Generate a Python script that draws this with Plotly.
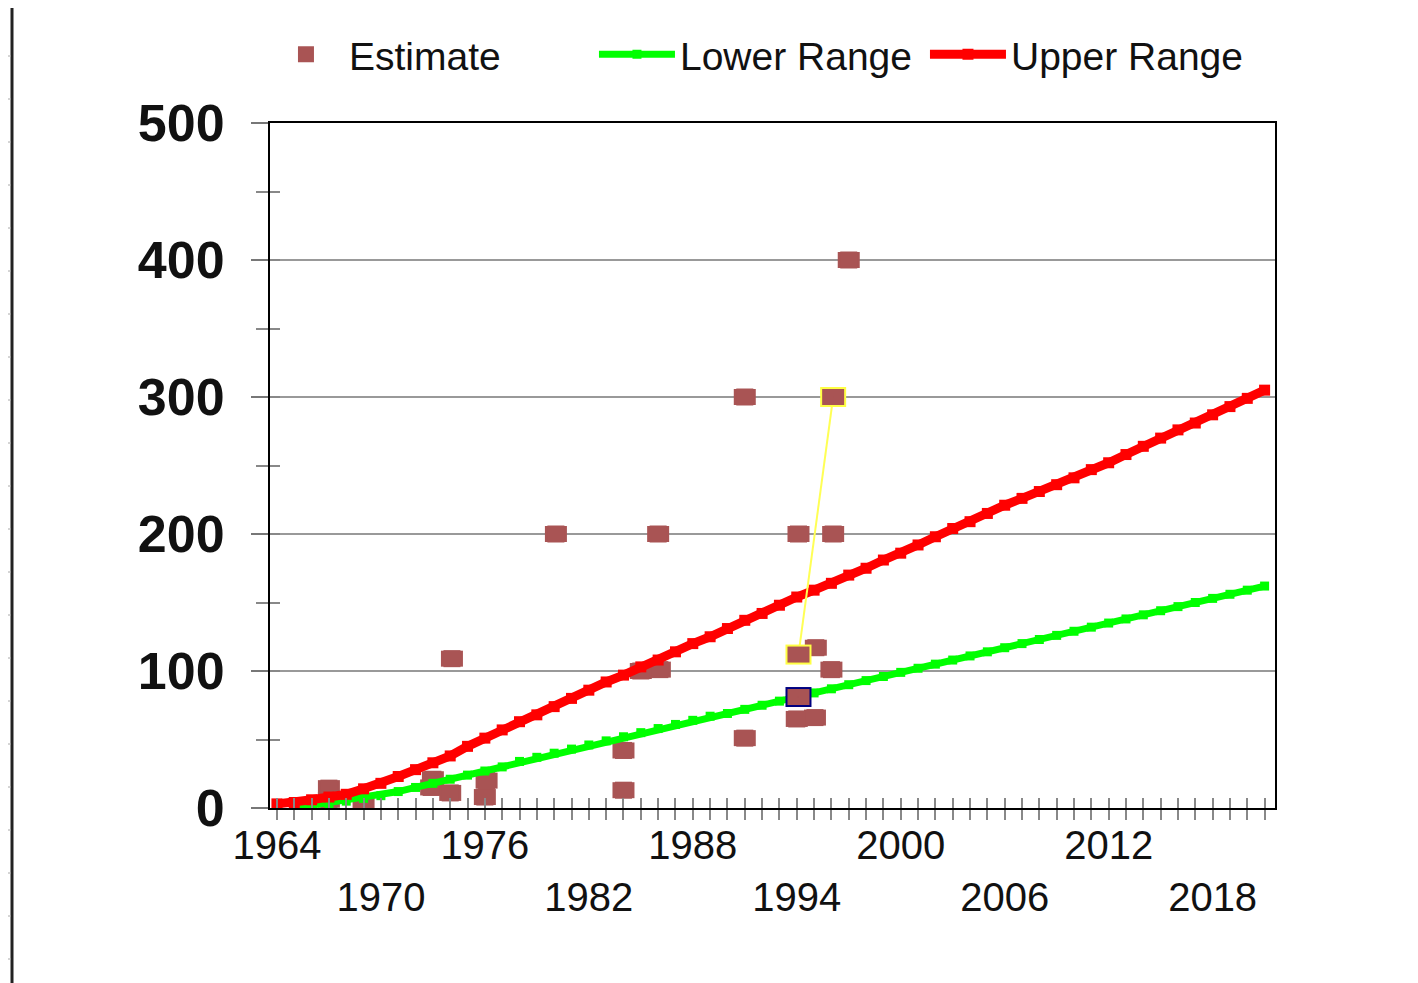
import plotly.graph_objects as go

# ---------------- data ----------------
upper_years = list(range(1964, 2022))
upper_vals = [3, 4, 6, 8, 10, 14, 18, 23, 28, 33,
              38, 45, 51, 57, 63, 68, 74, 80, 86, 92,
              97, 103, 108, 114, 120, 125, 131, 137, 142, 148,
              154, 159, 164, 170, 175, 181, 186, 192, 198, 204,
              209, 215, 221, 226, 231, 236, 241, 247, 252, 258,
              264, 270, 276, 281, 287, 293, 299, 305]

lower_years = list(range(1965, 2022))
lower_vals = [0, 2, 3, 5, 7, 9, 12, 15, 18,
              21, 24, 27, 30, 34, 37, 40, 43, 46, 49,
              52, 55, 58, 61, 64, 67, 69, 72, 75, 78,
              81, 84, 87, 90, 93, 96, 99, 102, 105, 108,
              111, 114, 117, 120, 123, 126, 129, 132, 135, 138,
              141, 144, 147, 150, 153, 156, 159, 162]

est_years = [1967.0, 1967.0, 1969.0, 1972.9, 1973.0, 1974.0, 1974.1, 1976.0, 1976.1,
             1980.1, 1984.0, 1984.0, 1985.0, 1986.1, 1986.0, 1991.0, 1991.0,
             1994.0, 1995.05, 1995.1, 1996.0, 1994.1, 1996.1, 1997.0]
est_vals = [6, 14.5, 1.5, 15, 21, 11, 109, 8, 20,
            200, 13, 42, 100, 101, 200, 51, 300,
            65, 66, 117, 101, 200, 200, 400]

selected_years = [1996.1, 1994.1]   # yellow highlighted pair
selected_vals = [300, 112]
focus_years = [1994.1]              # blue highlighted
focus_vals = [81]

tick_years = list(range(1964, 2022))
label_years_row1 = [1964, 1976, 1988, 2000, 2012]
label_years_row2 = [1970, 1982, 1994, 2006, 2018]
y_ticks = [0, 100, 200, 300, 400, 500]

# ---------------- styling / geometry ----------------
W, H = 1418, 983
PAGE_OFF = 8  # default body margin of the html page
L, R, T, B = 270 - PAGE_OFF, 143 + PAGE_OFF, 123 - PAGE_OFF, 175 + PAGE_OFF
X_RANGE = [1963.6, 2021.6]
Y_RANGE = [0, 500]
plot_w = W - L - R
plot_h = H - T - B
px_per_year = plot_w / (X_RANGE[1] - X_RANGE[0])

EST_COLOR = "#A95454"
RECT_W, RECT_H = 22, 16
SANS = "Liberation Sans, Arial, sans-serif"


def rect_trace(xs, ys, color, w, h, name=None, legend=False, msize=1):
    half = (w / 2.0) / px_per_year
    return go.Scatter(
        x=xs, y=ys, mode="markers", name=name, showlegend=legend,
        marker=dict(symbol="square", size=msize, color=color, line=dict(width=0)),
        error_x=dict(type="constant", value=half, thickness=h, width=0, color=color),
        hoverinfo="x+y",
    )


fig = go.Figure()

# estimates (base layer, under the lines)
fig.add_trace(rect_trace(est_years, est_vals, EST_COLOR, RECT_W, RECT_H,
                         name="Estimate", legend=True, msize=17))

fig.add_trace(go.Scatter(
    x=lower_years, y=lower_vals, mode="lines+markers", name="Lower Range",
    line=dict(color="#00FF00", width=7),
    marker=dict(symbol="square", size=9, color="#00FF00"),
))
fig.add_trace(go.Scatter(
    x=upper_years, y=upper_vals, mode="lines+markers", name="Upper Range",
    line=dict(color="#FF0000", width=9),
    marker=dict(symbol="square", size=11, color="#FF0000"),
))

# connector between highlighted estimates
fig.add_trace(go.Scatter(
    x=selected_years, y=selected_vals, mode="lines", showlegend=False,
    line=dict(color="#FFFF55", width=2), hoverinfo="skip",
))
# highlight outlines and fills
fig.add_trace(rect_trace(selected_years, selected_vals, "#FFFF44", RECT_W + 4, RECT_H + 4))
fig.add_trace(rect_trace(selected_years, selected_vals, EST_COLOR, RECT_W, RECT_H))
fig.add_trace(rect_trace(focus_years, focus_vals, "#000080", RECT_W + 4, RECT_H + 4))
fig.add_trace(rect_trace(focus_years, focus_vals, EST_COLOR, RECT_W, RECT_H))

# dummy trace for overlay axes (inside ticks)
fig.add_trace(go.Scatter(x=[None], y=[None], xaxis="x2", yaxis="y2",
                         showlegend=False, hoverinfo="skip"))

ticktext = []
for yv in tick_years:
    if yv in label_years_row1:
        ticktext.append(str(yv))
    elif yv in label_years_row2:
        ticktext.append("<br>" + str(yv))
    else:
        ticktext.append("")

fig.update_layout(
    width=W, height=H,
    margin=dict(l=L, r=R, t=T, b=B, pad=0, autoexpand=False),
    paper_bgcolor="white", plot_bgcolor="white",
    showlegend=True,
    legend=dict(
        orientation="h", x=-0.007, xanchor="left", y=1.100, yanchor="middle",
        font=dict(family=SANS, size=39, color="#111"),
        itemwidth=76, entrywidth=240, entrywidthmode="pixels",
        bgcolor="rgba(0,0,0,0)", tracegroupgap=0,
    ),
    xaxis=dict(
        range=X_RANGE, tickmode="array", tickvals=tick_years, ticktext=ticktext,
        tickangle=0, automargin=False,
        ticks="outside", ticklen=10, tickwidth=2, tickcolor="#888",
        showline=True, linecolor="black", linewidth=2, mirror=True,
        showgrid=False, zeroline=False,
        tickfont=dict(family=SANS, size=40, color="#111"),
        ticklabelstandoff=-9,
    ),
    yaxis=dict(
        range=Y_RANGE, tickmode="array", tickvals=y_ticks, automargin=False,
        ticks="outside", ticklen=17, tickwidth=2, tickcolor="#777",
        minor=dict(dtick=50, ticks="outside", ticklen=12, tickwidth=2, tickcolor="#888", showgrid=False),
        showline=True, linecolor="black", linewidth=2, mirror=True,
        showgrid=True, gridcolor="#999", gridwidth=2, zeroline=False,
        tickfont=dict(family=SANS, size=52, color="#111", weight="bold"),
        ticklabelstandoff=16,
    ),
    xaxis2=dict(
        overlaying="x", anchor="y2", range=X_RANGE, tickmode="array", tickvals=tick_years,
        ticks="inside", ticklen=10, tickwidth=2, tickcolor="#888", automargin=False,
        showticklabels=False, showgrid=False, showline=False, zeroline=False,
    ),
    yaxis2=dict(
        overlaying="y", anchor="x2", range=Y_RANGE, dtick=50, tick0=0, automargin=False,
        ticks="inside", ticklen=10, tickwidth=2, tickcolor="#888",
        showticklabels=False, showgrid=False, showline=False, zeroline=False,
    ),
)


# decorative frame line at the far left of the picture (screen px -> paper)
def px_x(px):
    return (px - PAGE_OFF - L) / plot_w


def px_y(py):
    return (H - B - (py - PAGE_OFF)) / plot_h


shapes = [dict(type="line", xref="paper", yref="paper",
               x0=px_x(12), x1=px_x(12), y0=px_y(0), y1=px_y(H),
               line=dict(color="#222", width=3))]
tick_py = 56
while tick_py < H - 10:
    shapes.append(dict(type="line", xref="paper", yref="paper",
                       x0=px_x(3), x1=px_x(11), y0=px_y(tick_py), y1=px_y(tick_py),
                       line=dict(color="#aaa", width=1)))
    tick_py += 43
fig.update_layout(shapes=shapes)

fig.write_html("out.html")
